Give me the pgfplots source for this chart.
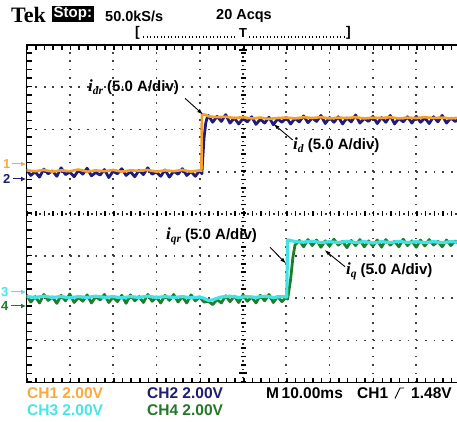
\documentclass[border=0pt]{standalone}
\usepackage{pgfplots}
\pgfplotsset{compat=1.18}
\usetikzlibrary{arrows.meta}
\usepackage{fontspec}
\setmainfont{Liberation Sans}
\newfontfamily\tnr{Liberation Serif}
\definecolor{c1}{RGB}{245,160,45}
\definecolor{c2}{RGB}{28,28,130}
\definecolor{c3}{RGB}{64,228,228}
\definecolor{c4}{RGB}{32,125,40}
\definecolor{t1}{RGB}{250,170,60}
\definecolor{t2}{RGB}{30,30,110}
\definecolor{t3}{RGB}{70,230,230}
\definecolor{t4}{RGB}{35,120,40}
\newcommand\fs[1]{\fontsize{#1}{#1}\selectfont}
\newcommand\lab[2]{{\tnr\bfseries\itshape\fs{17}#1}\raisebox{-3pt}{\tnr\bfseries\itshape\fs{11.5}#2\/}\hspace{4pt}{\bfseries\fs{15}(5.0 A/div)}}
\begin{document}
\begin{tikzpicture}
\useasboundingbox (0pt,0pt) rectangle (457pt,422pt);
\clip (0pt,0pt) rectangle (457pt,422pt);
\fill[white] (0pt,0pt) rectangle (457pt,422pt);
% graticule dots
\foreach \xx in {69.8,113.1,156.4,199.7,286.3,329.6,372.9,416.2} {
  \draw[black!75, line width=1.7pt, dash pattern=on 1.7pt off 6.74pt] (\xx pt,39.3pt) -- (\xx pt,377pt);
}
\foreach \yy in {81.5,123.7,165.9,250.3,292.5,334.7} {
  \draw[black!75, line width=1.7pt, dash pattern=on 1.7pt off 6.96pt] (26.5pt,\yy pt) -- (459.5pt,\yy pt);
}
% centre cross ticks
\draw[black!80, line width=1.5pt, dash pattern=on 1.5pt off 2.72pt] (243pt,39.3pt) -- (243pt,377pt);
\draw[black, line width=5pt, dash pattern=on 1.5pt off 6.94pt] (243pt,39.3pt) -- (243pt,377pt);
\draw[black!80, line width=1.5pt, dash pattern=on 1.5pt off 2.83pt] (26.5pt,208.1pt) -- (459.5pt,208.1pt);
\draw[black, line width=5pt, dash pattern=on 1.5pt off 7.16pt] (26.5pt,208.1pt) -- (459.5pt,208.1pt);
% frame ticks
\draw[black, line width=5pt, dash pattern=on 1.5pt off 7.16pt] (26.5pt,374.5pt) -- (459.5pt,374.5pt);
\draw[black, line width=5pt, dash pattern=on 1.5pt off 7.16pt] (26.5pt,41.8pt) -- (459.5pt,41.8pt);
\draw[black, line width=5pt, dash pattern=on 1.5pt off 6.94pt] (29pt,39.3pt) -- (29pt,377pt);
\begin{axis}[
  at={(26.5pt,39.3pt)}, anchor=south west,
  scale only axis, width=433pt, height=337.7pt,
  xmin=0, xmax=10, ymin=-4, ymax=4,
  ticks=none,
  axis line style={black, line width=1.5pt},
]
% CH2 id (navy, noisy)
\addplot[c2, line width=2.8pt, line join=round] coordinates {
(0.0,1.05)(0.1,0.91)(0.2,1.00)(0.3,0.87)(0.4,1.06)(0.5,0.95)(0.6,1.02)(0.7,0.89)(0.8,1.09)(0.9,0.93)
(1.0,0.99)(1.1,0.88)(1.2,1.03)(1.3,0.94)(1.4,1.08)(1.5,0.90)(1.6,0.98)(1.7,0.92)(1.8,1.05)(1.9,0.86)
(2.0,1.01)(2.1,0.95)(2.2,1.07)(2.3,0.91)(2.4,1.00)(2.5,0.88)(2.6,1.03)(2.7,0.93)(2.8,1.09)(2.9,0.94)
(3.0,0.99)(3.1,0.89)(3.2,1.04)(3.3,0.87)(3.4,1.01)(3.5,0.94)(3.6,1.07)(3.7,0.91)(3.8,1.00)(3.9,0.89)
(4.0,1.03)(4.05,0.95)(4.07,1.30)(4.10,1.80)(4.14,2.15)(4.17,2.27)
(4.2,2.33)(4.3,2.17)(4.4,2.31)(4.5,2.19)(4.6,2.35)(4.7,2.15)(4.8,2.27)(4.9,2.13)
(5.0,2.26)(5.1,2.18)(5.2,2.30)(5.3,2.12)(5.4,2.24)(5.5,2.15)(5.6,2.29)(5.7,2.11)(5.8,2.25)(5.9,2.17)
(6.0,2.28)(6.1,2.13)(6.2,2.26)(6.3,2.18)(6.4,2.32)(6.5,2.16)(6.6,2.27)(6.7,2.19)(6.8,2.33)(6.9,2.14)
(7.0,2.28)(7.1,2.17)(7.2,2.30)(7.3,2.13)(7.4,2.27)(7.5,2.18)(7.6,2.34)(7.7,2.15)(7.8,2.26)(7.9,2.19)
(8.0,2.31)(8.1,2.14)(8.2,2.28)(8.3,2.17)(8.4,2.33)(8.5,2.13)(8.6,2.26)(8.7,2.18)(8.8,2.30)(8.9,2.15)
(9.0,2.31)(9.1,2.17)(9.2,2.27)(9.3,2.14)(9.4,2.30)(9.5,2.18)(9.6,2.33)(9.7,2.15)(9.8,2.27)(9.9,2.19)
(10.0,2.25)};
% CH1 idr (orange)
\addplot[c1, line width=2.6pt, line join=round] coordinates {
(0,1.03)(0.2,1.01)(0.4,1.04)(0.6,1.00)(0.8,1.03)(1.0,1.01)(1.2,1.05)(1.4,1.00)(1.6,1.03)(1.8,1.01)
(2.0,1.04)(2.2,1.00)(2.4,1.03)(2.6,1.02)(2.8,1.04)(3.0,1.00)(3.2,1.03)(3.4,1.01)(3.6,1.04)(3.8,1.00)
(4.0,1.03)(4.04,1.02)(4.05,2.36)(4.12,2.35)(4.2,2.31)(4.4,2.29)(4.6,2.30)(4.8,2.27)(5.0,2.29)(5.2,2.26)
(5.4,2.28)(5.6,2.25)(5.8,2.27)(6.0,2.28)(6.2,2.26)(6.4,2.29)(6.6,2.27)(6.8,2.29)(7.0,2.26)(7.2,2.28)
(7.4,2.27)(7.6,2.29)(7.8,2.26)(8.0,2.28)(8.2,2.27)(8.4,2.29)(8.6,2.26)(8.8,2.28)(9.0,2.27)(9.2,2.29)
(9.4,2.27)(9.6,2.28)(9.8,2.26)(10,2.28)};
% CH4 iq (green, noisy)
\addplot[c4, line width=2.8pt, line join=round] coordinates {
(0.0,-1.92)(0.1,-2.09)(0.2,-1.96)(0.3,-2.11)(0.4,-1.91)(0.5,-2.05)(0.6,-1.97)(0.7,-2.12)(0.8,-1.93)(0.9,-2.06)
(1.0,-1.90)(1.1,-2.10)(1.2,-1.98)(1.3,-2.07)(1.4,-1.92)(1.5,-2.11)(1.6,-1.96)(1.7,-2.04)(1.8,-1.91)(1.9,-2.10)
(2.0,-1.97)(2.1,-2.08)(2.2,-1.93)(2.3,-2.12)(2.4,-1.92)(2.5,-2.06)(2.6,-1.96)(2.7,-2.10)(2.8,-1.91)(2.9,-2.07)
(3.0,-1.97)(3.1,-2.11)(3.2,-1.93)(3.3,-2.05)(3.4,-1.91)(3.5,-2.09)(3.6,-1.96)(3.7,-2.11)(3.8,-1.92)(3.9,-2.06)
(4.0,-1.97)(4.1,-2.09)(4.2,-2.07)(4.3,-2.15)(4.4,-2.03)(4.5,-2.11)(4.6,-1.94)(4.7,-2.08)(4.8,-1.95)(4.9,-2.10)
(5.0,-1.92)(5.1,-2.07)(5.2,-1.97)(5.3,-2.11)(5.4,-1.93)(5.5,-2.06)(5.6,-1.91)(5.7,-2.10)(5.8,-1.96)(5.9,-2.08)
(6.0,-1.97)(6.03,-2.02)(6.1,-1.55)(6.15,-1.05)(6.2,-0.74)
(6.3,-0.63)(6.4,-0.78)(6.5,-0.61)(6.6,-0.75)(6.7,-0.62)(6.8,-0.79)(6.9,-0.64)
(7.0,-0.76)(7.1,-0.60)(7.2,-0.74)(7.3,-0.65)(7.4,-0.80)(7.5,-0.63)(7.6,-0.75)(7.7,-0.61)(7.8,-0.78)(7.9,-0.64)
(8.0,-0.76)(8.1,-0.62)(8.2,-0.79)(8.3,-0.61)(8.4,-0.74)(8.5,-0.65)(8.6,-0.78)(8.7,-0.60)(8.8,-0.75)(8.9,-0.64)
(9.0,-0.79)(9.1,-0.62)(9.2,-0.76)(9.3,-0.61)(9.4,-0.74)(9.5,-0.65)(9.6,-0.78)(9.7,-0.62)(9.8,-0.75)(9.9,-0.64)
(10.0,-0.72)};
% CH3 iqr (cyan)
\addplot[c3, line width=3.2pt, line join=round] coordinates {
(0,-1.96)(0.2,-1.98)(0.4,-1.95)(0.6,-1.98)(0.8,-1.96)(1.0,-1.99)(1.2,-1.96)(1.4,-1.98)(1.6,-1.95)(1.8,-1.98)
(2.0,-1.96)(2.2,-1.99)(2.4,-1.96)(2.6,-1.98)(2.8,-1.95)(3.0,-1.98)(3.2,-1.96)(3.4,-1.98)(3.6,-1.96)(3.8,-1.99)
(4.0,-1.97)(4.1,-2.00)(4.2,-2.05)(4.3,-2.04)(4.4,-2.00)(4.5,-1.97)(4.7,-1.95)(4.9,-1.98)(5.1,-1.96)(5.3,-1.98)
(5.5,-1.95)(5.7,-1.98)(5.9,-1.96)(6.01,-1.97)(6.03,-0.62)(6.1,-0.63)(6.2,-0.66)(6.4,-0.67)(6.6,-0.65)(6.8,-0.68)
(7.0,-0.66)(7.2,-0.68)(7.4,-0.65)(7.6,-0.68)(7.8,-0.66)(8.0,-0.69)(8.2,-0.66)(8.4,-0.68)(8.6,-0.65)(8.8,-0.68)
(9.0,-0.66)(9.2,-0.68)(9.4,-0.66)(9.6,-0.68)(9.8,-0.66)(10,-0.67)};
\end{axis}
% header
\node[anchor=west, inner sep=0pt] at (11pt,407.5pt) {\tnr\bfseries\fs{22}Tek};
\node[anchor=west, fill=black, text=white, inner sep=1.5pt] at (52pt,408pt) {\bfseries\fs{15}Stop:};
\node[anchor=west, inner sep=0pt] at (105pt,406pt) {\bfseries\fs{14.5}50.0kS/s};
\node[anchor=west, inner sep=0pt] at (216pt,406pt) {\bfseries\fs{14.5}20 Acqs};
\node[anchor=west, inner sep=0pt] at (135pt,389pt) {\bfseries\fs{14}[};
\node[anchor=east, inner sep=0pt] at (351pt,389pt) {\bfseries\fs{14}]};
\node[inner sep=0pt] at (243pt,389pt) {\bfseries\fs{13}T};
\draw[black, line width=1.2pt, dash pattern=on 1.2pt off 2.3pt] (143pt,385pt) -- (237pt,385pt);
\draw[black, line width=1.2pt, dash pattern=on 1.2pt off 2.3pt] (249pt,385pt) -- (344pt,385pt);
% centre markers on frame
\draw[black, line width=2pt] (239pt,372pt) -- (247pt,372pt);
\draw[black, line width=2pt] (239pt,49pt) -- (247pt,49pt);
% channel markers
\node[anchor=west, inner sep=0pt, text=t1] at (3pt,258pt) {\bfseries\fs{13}1};
\draw[t1, line width=1pt, -{Latex[length=5pt,width=5pt]}] (12pt,258pt) -- (26pt,258pt);
\node[anchor=west, inner sep=0pt, text=t2] at (3pt,243pt) {\bfseries\fs{13}2};
\draw[t2, line width=1pt, -{Latex[length=5pt,width=5pt]}] (13pt,243pt) -- (26pt,243pt);
\node[anchor=west, inner sep=0pt, text=t3] at (1pt,130pt) {\bfseries\fs{13}3};
\draw[t3, line width=1pt, -{Latex[length=5pt,width=5pt]}] (11pt,130pt) -- (26pt,130pt);
\node[anchor=west, inner sep=0pt, text=t4] at (1pt,116pt) {\bfseries\fs{13}4};
\draw[t4, line width=1pt, -{Latex[length=5pt,width=5pt]}] (11pt,116pt) -- (26pt,116pt);
% annotations
\node[anchor=west, inner sep=0pt] at (88pt,335.3pt) {\lab{i}{dr}};
\draw[black, line width=0.9pt, -{Latex[length=6pt,width=4pt]}] (185pt,323.7pt) -- (203pt,307.5pt);
\node[anchor=west, inner sep=0pt] at (293pt,277pt) {\lab{i}{d}};
\draw[black, line width=0.9pt, -{Latex[length=6pt,width=4pt]}] (292.7pt,282pt) -- (273.5pt,298pt);
\node[anchor=west, inner sep=0pt] at (166pt,186pt) {\lab{i}{qr}};
\draw[black, line width=0.9pt, -{Latex[length=6pt,width=4pt]}] (270pt,174.7pt) -- (286pt,158.5pt);
\node[anchor=west, inner sep=0pt] at (346pt,150.3pt) {\lab{i}{q}};
\draw[black, line width=0.9pt, -{Latex[length=6pt,width=4pt]}] (345pt,155.3pt) -- (324.5pt,172pt);
% footer
\node[anchor=west, inner sep=0pt, text=t1] at (27pt,29pt) {\bfseries\fs{15.5}CH1 2.00V};
\node[anchor=west, inner sep=0pt, text=t3] at (27pt,12pt) {\bfseries\fs{15.5}CH3 2.00V};
\node[anchor=west, inner sep=0pt, text=t2] at (147pt,29pt) {\bfseries\fs{15.5}CH2 2.00V};
\node[anchor=west, inner sep=0pt, text=t4] at (147pt,12pt) {\bfseries\fs{15.5}CH4 2.00V};
\node[anchor=west, inner sep=0pt] at (266pt,29pt) {\bfseries\fs{15.5}M\,10.00ms};
\node[anchor=west, inner sep=0pt] at (357pt,29pt) {\bfseries\fs{15.5}CH1};
\draw[black, line width=0.9pt] (395pt,23.5pt) -- (400pt,34pt) -- (404pt,34pt);
\node[anchor=west, inner sep=0pt] at (411pt,29pt) {\bfseries\fs{15.5}1.48V};
\end{tikzpicture}
\end{document}
